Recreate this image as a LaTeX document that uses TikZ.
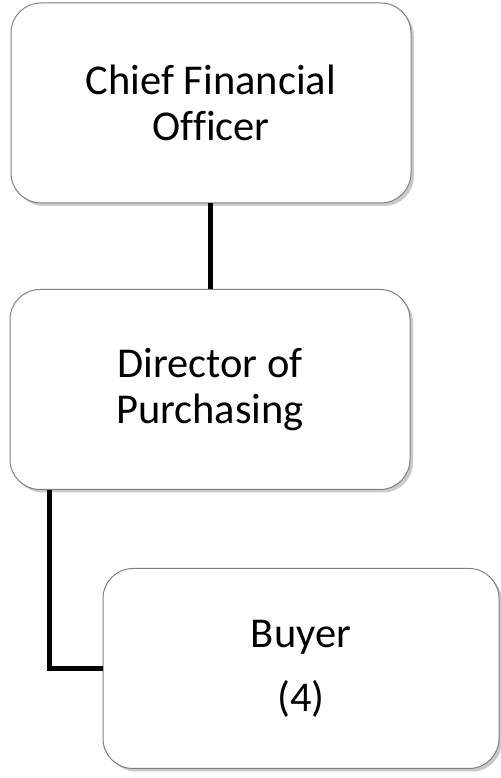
\documentclass[tikz,border=0pt]{standalone}
\usepackage{fontspec}
\setmainfont[Ligatures=NoCommon]{Carlito}
\usetikzlibrary{shadows}
\begin{document}
\begin{tikzpicture}[x=1pt,y=1pt,
  orgbox/.style={draw=black!50, line width=1pt, fill=white, rounded corners=30pt,
    minimum width=400pt, minimum height=200pt, inner sep=0pt, align=center,
    font=\fontsize{42.5}{46}\selectfont,
    drop shadow={shadow xshift=3pt, shadow yshift=-3pt, opacity=0.35, fill=black!60}},
  link/.style={line width=5pt, black, line join=miter}]
\useasboundingbox (0,0) rectangle (500,778);
\node[orgbox] (cfo) at (211,675) {Chief Financial\\Officer};
\node[orgbox] (dir) at (210,388.5) {Director of\\Purchasing};
\node[orgbox, minimum width=396pt] (buy) at (301,109.5) {Buyer\\[18pt](4)};
\coordinate (tap) at ([xshift=40pt]dir.south west);
\draw[link] (cfo.south -| dir.north) -- (dir.north);
\draw[link] (tap) |- (buy.west);
\end{tikzpicture}
\end{document}
